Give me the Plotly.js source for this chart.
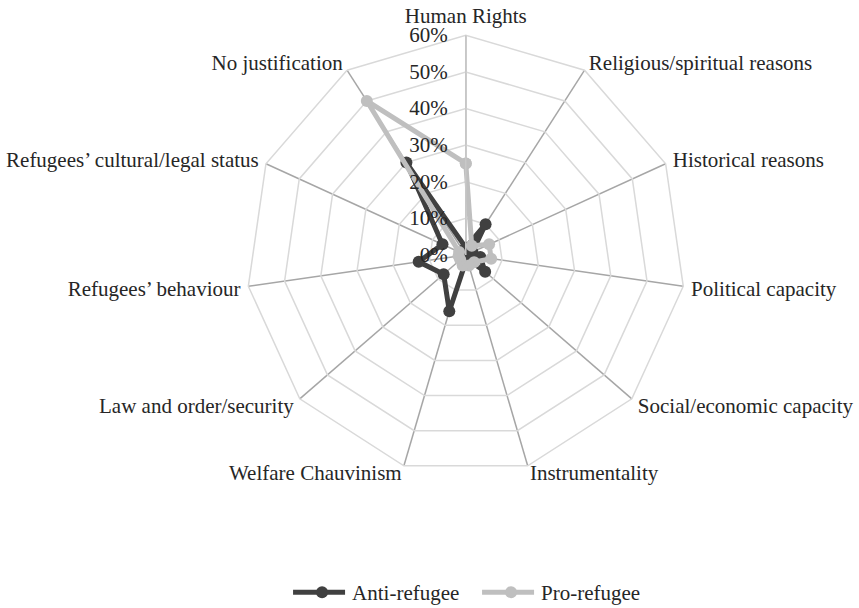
<!DOCTYPE html>
<html>
<head>
<meta charset="utf-8">
<script src="https://cdn.plot.ly/plotly-3.0.1.min.js"></script>
<style>html,body{margin:0;padding:0;background:#fff;}#chart{width:859px;height:608px;}</style>
</head>
<body>
<div id="chart"></div>
<script>
const categories = ['Human Rights','Religious/spiritual reasons','Historical reasons','Political capacity','Social/economic capacity','Instrumentality','Welfare Chauvinism','Law and order/security','Refugees\u2019 behaviour','Refugees\u2019 cultural/legal status','No justification'];
const antiRefugee = [0.02, 0.10, 0.02, 0.04, 0.07, 0.01, 0.16, 0.08, 0.13, 0.07, 0.30];
const proRefugee  = [0.25, 0.03, 0.07, 0.07, 0.03, 0.03, 0.03, 0.02, 0.02, 0.02, 0.50];
const radialTicks = [0, 0.1, 0.2, 0.3, 0.4, 0.5, 0.6];
const radialTickText = ['0%','10%','20%','30%','40%','50%','60%'];

function closeLoop(a){ return a.concat([a[0]]); }

const font = {family: '"Liberation Serif", "Times New Roman", serif', size: 21, color: '#262626'};

const traces = [
  {type:'scatterpolar', name:'Anti-refugee', r: closeLoop(antiRefugee), theta: closeLoop(categories),
   mode:'lines+markers', line:{color:'#404040', width:5}, marker:{color:'#404040', size:12}},
  {type:'scatterpolar', name:'Pro-refugee', r: closeLoop(proRefugee), theta: closeLoop(categories),
   mode:'lines+markers', line:{color:'#BFBFBF', width:5}, marker:{color:'#BFBFBF', size:12}}
];

const layout = {
  width: 859, height: 608,
  margin: {l:0, r:0, t:0, b:0, autoexpand: false},
  paper_bgcolor: '#fff',
  font: font,
  showlegend: true,
  legend: {orientation:'h', x:0.34, xanchor:'left', y:0, yanchor:'bottom', font: font, itemwidth: 50, entrywidth: 124},
  polar: {
    domain: {x:[0.2865, 0.798], y:[0.2192, 0.942]},
    bgcolor: '#fff',
    gridshape: 'linear',
    angularaxis: {
      type:'category', categoryarray: categories, rotation: 90, direction: 'clockwise',
      showline: true, linecolor:'#D9D9D9', linewidth: 1.5,
      gridcolor:'#A6A6A6', gridwidth: 1.5, ticks:'outside', ticklen: 3, tickcolor:'rgba(0,0,0,0)', tickfont: font
    },
    radialaxis: {
      range:[0, 0.6], tickvals: radialTicks, ticktext: radialTickText, angle: 90,
      side:'counterclockwise', showline: true, linecolor:'#C8C8C8', linewidth: 1.5,
      gridcolor:'#D9D9D9', gridwidth: 1.5, ticks:'outside', ticklen: 10, tickcolor:'rgba(0,0,0,0)', tickfont: font, tickangle: 90
    }
  }
};

const labelNudge = {
  'Human Rights': 0, 'Religious/spiritual reasons': 6, 'Historical reasons': 2, 'Political capacity': -2,
  'Social/economic capacity': -10, 'Instrumentality': -16, 'Welfare Chauvinism': -16, 'Law and order/security': -10,
  'Refugees\u2019 behaviour': -2, 'Refugees\u2019 cultural/legal status': 2, 'No justification': 6
};

Plotly.newPlot('chart', traces, layout, {displayModeBar:false, staticPlot:true}).then(function(){
  document.querySelectorAll('.legendlines path').forEach(function(p){ p.setAttribute('d','M1,0h52'); });
  const lg = document.querySelector('g.legend');
  if (lg) lg.setAttribute('transform', (lg.getAttribute('transform') || '') + ' translate(0,5)');
  document.querySelectorAll('.angular-axis text, .angulartick text').forEach(function(t){
    const dy = labelNudge[t.textContent];
    if (dy && !t.dataset.nudged) {
      t.dataset.nudged = '1';
      const tr = t.getAttribute('transform') || '';
      t.setAttribute('transform', tr + ' translate(0,' + dy + ')');
    }
  });
});
</script>
</body>
</html>
